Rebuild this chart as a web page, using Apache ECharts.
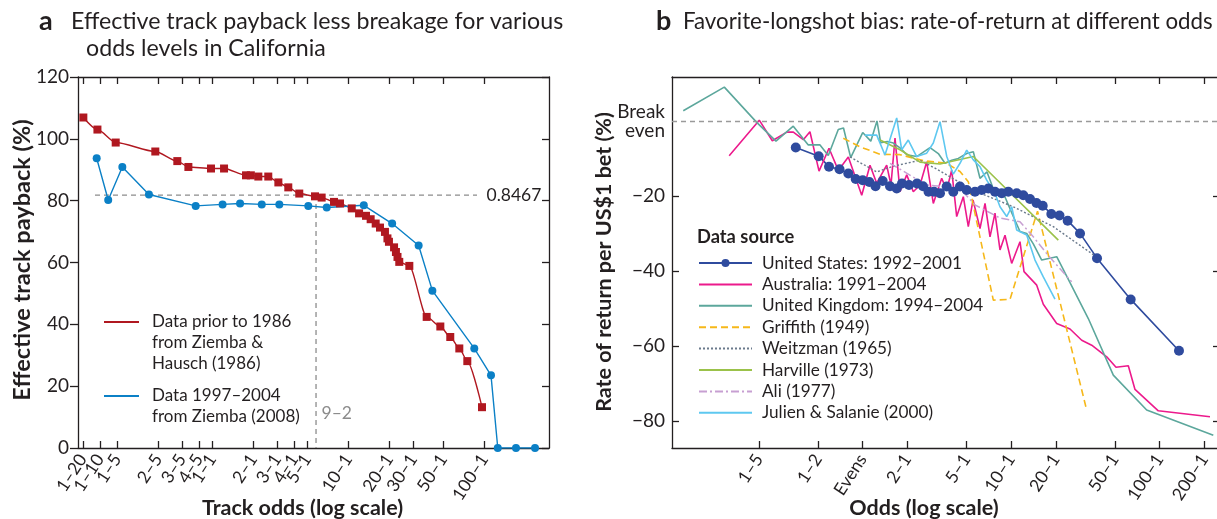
<!DOCTYPE html>
<html><head><meta charset="utf-8">
<script src="https://cdn.jsdelivr.net/npm/echarts@6/dist/echarts.min.js"></script>
<style>html,body{margin:0;padding:0;background:#fff}#c{width:1217px;height:519px}</style>
</head><body><div id="c"></div>
<script>
// ---------- Panel a ----------
const leftTickOdds = [0.05,0.1,0.2,0.4,0.6,0.8,1,2,3,4,5,10,20,30,50,100];
const leftTickLabels = ['1–20','1–10','1–5','2–5','3–5','4–5','1–1','2–1','3–1','4–1','5–1','10–1','20–1','30–1','50–1','100–1'];
const leftYTicks = [0,20,40,60,80,100,120];

const redOdds = [0.051,0.09,0.188,0.381,0.553,0.667,0.978,1.22,1.77,1.92,2.18,2.58,3.06,3.62,4.36,5.69,6.37,7.85,8.69,10.6,12.0,13.5,14.6,15.9,17.1,18.6,19.4,19.9,21.7,22.4,23.0,23.7,28.1,37.7,47.5,56.2,65.5,75.0,96.2];
const redVals = [106.9,103.0,98.8,95.9,92.8,90.9,90.4,90.4,88.2,88.2,87.8,87.8,85.9,84.3,82.3,81.4,81.0,79.6,79.1,77.5,75.9,75.1,74.0,72.6,71.3,69.9,67.8,66.7,64.9,63.4,61.8,60.2,58.9,42.4,39.3,35.9,32.2,28.1,13.2];

const blueOdds = [0.0873,0.139,0.218,0.342,0.755,1.19,1.60,2.31,3.11,5.08,6.94,13.0,21.0,32.9,41.5,84.4,112,125.6,171,236];
const blueVals = [93.7,80.2,90.9,82.0,78.3,78.8,79.1,78.8,78.8,78.3,77.8,78.5,72.6,65.5,50.9,32.2,23.5,0,0,0];

const refLevel = 81.8;              // dashed horizontal level ("0.8467")
const refLineOdds = [0.0816, 88.4]; // extent of the dashed horizontal
const refOdds92 = 5.79;             // dashed vertical ("9–2")

// ---------- Panel b ----------
const rightTickOdds = [0.2,0.5,1,2,5,10,20,50,100,200];
const rightTickLabels = ['1–5','1–2','Evens','2–1','5–1','10–1','20–1','50–1','100–1','200–1'];
const rightYTicks = [-80,-60,-40,-20,0];

const usOdds = [0.354,0.505,0.593,0.698,0.800,0.897,1.0,1.108,1.22,1.364,1.528,1.695,1.84,2.051,2.322,2.549,2.777,3.023,3.319,3.681,4.078,4.525,5.022,5.711,6.338,7.022,7.79,8.644,9.575,10.91,12.08,13.41,14.83,16.33,18.66,21.19,24.06,29.13,37.93,63.95,135.3];
const usVals = [-7.0,-9.3,-12.1,-12.8,-13.9,-15.4,-15.7,-16.2,-17.3,-15.9,-17.3,-17.9,-16.6,-17.0,-16.6,-17.3,-18.8,-18.8,-19.2,-17.4,-18.8,-17.4,-18.3,-18.8,-18.3,-17.9,-18.8,-19.2,-18.8,-19.2,-19.7,-20.7,-21.8,-22.5,-24.7,-25.1,-26.5,-29.9,-36.5,-47.5,-61.2];

const auOdds = [0.126,0.201,0.246,0.308,0.341,0.398,0.441,0.508,0.593,0.685,0.800,0.985,1.12,1.243,1.451,1.551,1.651,1.784,1.98,2.193,2.433,2.70,2.991,3.406,3.681,3.979,4.299,4.764,5.148,5.538,6.172,6.672,7.209,7.79,8.418,9.097,10.09,11.48,12.22,14.88,16.48,20.29,24.94,29.91,34.92,44.09,50.92,61.63,68.38,98.15,218.9];
const auVals = [-9.2,0.3,-5.2,-2.9,-2.9,-4.9,-2.8,-13.3,-7.2,-13.1,-9.5,-19.7,-11.7,-16.5,-11.7,-17.0,-4.5,-18.8,-14.3,-18.8,-17.0,-10.8,-21.9,-15.2,-18.4,-13.0,-25.4,-20.1,-28.1,-21.0,-28.6,-21.9,-30.8,-24.5,-34.3,-30.4,-37.9,-32.1,-40.1,-43.7,-48.8,-53.9,-55.4,-58.4,-59.7,-62.8,-65.6,-65.2,-71.5,-77.2,-78.8];

const ukOdds = [0.0618,0.1168,0.1931,0.2604,0.3406,0.4299,0.5157,0.5863,0.6847,0.7424,0.8301,1.0,1.134,1.248,1.322,1.465,1.608,1.784,1.98,2.311,2.841,3.232,3.586,3.979,4.408,5.022,5.564,6.172,6.88,7.79,9.097,10.35,11.48,12.74,14.11,16.08,20.29,24.94,33.13,48.83,81.97,230.4];
const ukVals = [2.8,9.1,-0.3,-5.3,-1.3,-6.3,-6.3,-9.1,-2.2,-1.8,-9.7,-3.0,-5.3,0.1,-5.7,-5.4,-5.8,-7.1,-8.9,-9.4,-7.0,-8.6,-11.2,-10.4,-9.9,-8.6,-8.1,-15.2,-13.5,-19.2,-20.2,-25.4,-29.4,-29.9,-32.7,-37.0,-36.1,-43.0,-52.6,-67.7,-77.0,-83.7];

const grOdds = [0.740,0.959,1.308,1.784,2.561,3.681,4.525,5.148,7.588,9.831,15.07,32.31];
const grVals = [-4.5,-6.8,-8.8,-8.9,-10.5,-11.2,-13.4,-16.1,-47.7,-47.5,-24.0,-77.0];

const weOdds = [0.821,1.243,1.60,2.433,3.071,5.564,10.35,19.25,37.75];
const weVals = [-9.5,-13.5,-12.0,-10.4,-12.5,-18.4,-22.8,-28.1,-36.2];

const haOdds = [1.268,1.784,2.433,3.319,5.564,20.80];
const haVals = [-4.7,-7.6,-10.9,-11.4,-9.4,-31.7];

const alOdds = [1.528,2.70,3.681,4.525,5.711,8.418,11.48,14.11,17.73,25.61];
const alVals = [-11.2,-17.0,-17.5,-17.9,-22.3,-25.8,-26.8,-30.8,-35.7,-42.8];

const juOdds = [1.036,1.243,1.413,1.695,1.831,2.029,2.311,2.70,2.991,3.319,3.681,4.078,4.525,5.022,5.564,6.172,6.848,7.79,8.418,9.341,10.09,10.91,12.74,14.49,16.48,19.76];
const juVals = [-3.7,-3.7,-9.0,0.9,-7.6,-5.0,-9.4,-8.5,-5.8,-0.1,-9.3,-14.1,-11.2,-7.7,-10.3,-12.1,-15.7,-19.2,-22.8,-25.4,-22.8,-29.0,-30.3,-37.0,-41.5,-47.4];

// ---------- scales ----------
// panel a: log odds axis, compressed below 1-5
const LB = Math.log10(0.2);
const lx = o => { const l = Math.log10(o); return l >= LB ? l : LB + 0.42 * (l - LB); };
const rx = o => Math.log10(o);
const zip = (xs, ys, f) => xs.map((x, i) => [f(x), ys[i]]);
function makeFmt(ticks, labels, f) {
  const m = {};
  ticks.forEach((t, i) => { m[f(t).toFixed(4)] = labels[i]; });
  return v => { const k = Number(v).toFixed(4); return m[k] !== undefined ? m[k] : ''; };
}

const FONT = 'Lato';
const INK = '#231f20';
const AX = { lineStyle: { color: INK, width: 1.3 }, onZero: false };
const TICKLBL = { fontFamily: FONT, color: INK, showMinLabel: true, showMaxLabel: true, hideOverlap: false };

const chart = echarts.init(document.getElementById('c'));

const lxTicks = leftTickOdds.map(lx);
// labels split over two coincident axes so that crowded neighbours are never auto-hidden
const lxTicksEven = lxTicks.filter((_, i) => i % 2 === 0);
const lxTicksOdd = lxTicks.filter((_, i) => i % 2 === 1);
const rxTicks = rightTickOdds.map(rx);
const HIDE = { opacity: 0 };
const LFMT = makeFmt(leftTickOdds, leftTickLabels, lx);
const LXMIN = -0.9875, LXMAX = 2.4757;

chart.setOption({
  animation: false,
  backgroundColor: '#fff',
  textStyle: { fontFamily: FONT, color: INK },
  title: [
    { text: 'a', left: 39, top: 6, padding: 0, textStyle: { fontFamily: FONT, fontSize: 27, fontWeight: 'bold', color: INK, lineHeight: 30 } },
    { text: 'Effective track payback less breakage for various', left: 71, top: 9, padding: 0, textStyle: { fontFamily: FONT, fontSize: 23.2, fontWeight: 'normal', color: INK, lineHeight: 26 } },
    { text: 'odds levels in California', left: 86, top: 36, padding: 0, textStyle: { fontFamily: FONT, fontSize: 23.2, fontWeight: 'normal', color: INK, lineHeight: 26 } },
    { text: 'b', left: 656, top: 6, padding: 0, textStyle: { fontFamily: FONT, fontSize: 27, fontWeight: 'bold', color: INK, lineHeight: 30 } },
    { text: 'Favorite-longshot bias: rate-of-return at different odds', left: 683, top: 9, padding: 0, textStyle: { fontFamily: FONT, fontSize: 22.3, fontWeight: 'normal', color: INK, lineHeight: 26 } },
    { text: 'Data source', left: 697, top: 227, padding: 0, textStyle: { fontFamily: FONT, fontSize: 18.3, fontWeight: 'bold', color: INK, lineHeight: 20 } }
  ],
  grid: [
    { left: 78, top: 77, width: 471, height: 371, containLabel: false, outerBoundsMode: 'none' },
    { left: 672, top: 77, width: 546, height: 371, containLabel: false, outerBoundsMode: 'none' }
  ],
  xAxis: [
    { gridIndex: 0, type: 'value', position: 'bottom', min: LXMIN, max: LXMAX,
      axisLine: AX, splitLine: { show: false },
      axisTick: { inside: true, length: 7, customValues: lxTicks, lineStyle: { color: INK, width: 1.3 } },
      axisLabel: Object.assign({ customValues: lxTicksEven, formatter: LFMT, rotate: 57, margin: 8, fontSize: 17.5 }, TICKLBL),
      name: 'Track odds (log scale)', nameLocation: 'middle', nameGap: 49, nameMoveOverlap: false,
      nameTextStyle: { fontFamily: FONT, fontSize: 21.5, fontWeight: 'bold', color: INK, padding: [0, 22, 0, 0] } },
    { gridIndex: 0, type: 'value', position: 'top', min: LXMIN, max: LXMAX,
      axisLine: AX, splitLine: { show: false },
      axisTick: { inside: true, length: 7, customValues: lxTicks, lineStyle: { color: INK, width: 1.3 } },
      axisLabel: { show: false } },
    { gridIndex: 1, type: 'value', position: 'bottom', min: -1.285, max: 2.3942,
      axisLine: AX, splitLine: { show: false },
      axisTick: { inside: true, length: 7, customValues: rxTicks, lineStyle: { color: INK, width: 1.3 } },
      axisLabel: Object.assign({ customValues: rxTicks, formatter: makeFmt(rightTickOdds, rightTickLabels, rx), rotate: 57, margin: 8, fontSize: 17.5 }, TICKLBL),
      name: 'Odds (log scale)', nameLocation: 'middle', nameGap: 49, nameMoveOverlap: false,
      nameTextStyle: { fontFamily: FONT, fontSize: 21.5, fontWeight: 'bold', color: INK, padding: [0, 42, 0, 0] } },
    { gridIndex: 1, type: 'value', position: 'top', min: -1.285, max: 2.3942,
      axisLine: AX, splitLine: { show: false },
      axisTick: { inside: true, length: 7, customValues: rxTicks, lineStyle: { color: INK, width: 1.3 } },
      axisLabel: { show: false } },
    { gridIndex: 0, type: 'value', position: 'bottom', offset: 0, min: LXMIN, max: LXMAX,
      axisLine: { show: false, onZero: false }, splitLine: { show: false }, axisTick: { show: false },
      axisLabel: Object.assign({ customValues: lxTicksOdd, formatter: LFMT, rotate: 57, margin: 8, fontSize: 17.5 }, TICKLBL) }
  ],
  yAxis: [
    { gridIndex: 0, type: 'value', position: 'left', min: 0, max: 120, interval: 20,
      axisLine: AX, splitLine: { show: false },
      axisTick: { inside: false, length: 8, lineStyle: { color: INK, width: 1.3 } },
      axisLabel: Object.assign({ margin: 9, fontSize: 19 }, TICKLBL),
      name: 'Effective track payback (%)', nameLocation: 'middle', nameGap: 44, nameMoveOverlap: false,
      nameTextStyle: { fontFamily: FONT, fontSize: 23.5, fontWeight: 'bold', color: INK, padding: [0, 0, 0, 5] } },
    { gridIndex: 0, type: 'value', position: 'right', min: 0, max: 120, interval: 20,
      axisLine: AX, splitLine: { show: false },
      axisTick: { inside: true, length: 7, lineStyle: { color: INK, width: 1.3 } },
      axisLabel: { show: false } },
    { gridIndex: 1, type: 'value', position: 'left', min: -87.12, max: 11.81,
      axisLine: AX, splitLine: { show: false },
      axisTick: { inside: true, length: 7, customValues: [-80, -60, -40, -20], lineStyle: { color: INK, width: 1.3 } },
      axisLabel: Object.assign({ customValues: rightYTicks, margin: 7, fontSize: 19, lineHeight: 19,
        formatter: v => v === 0 ? 'Break\neven' : '\u2212' + Math.abs(v) }, TICKLBL),
      name: 'Rate of return per US$1 bet (%)', nameLocation: 'middle', nameGap: 57, nameMoveOverlap: false,
      nameTextStyle: { fontFamily: FONT, fontSize: 21.5, fontWeight: 'bold', color: INK, padding: [0, 0, 0, 1] } },
    { gridIndex: 1, type: 'value', position: 'right', min: -87.12, max: 11.81,
      axisLine: { show: false, onZero: false }, splitLine: { show: false },
      axisTick: { inside: true, length: 5, customValues: [-80, -60, -40, -20], lineStyle: { color: INK, width: 1.3 } },
      axisLabel: { show: false } }
  ],
  legend: [
    { data: ['Data prior to 1986'], orient: 'vertical', left: 104, top: 269.5, padding: 0,
      icon: 'rect', itemWidth: 35, itemHeight: 2,
      textStyle: { fontFamily: FONT, fontSize: 17, color: INK, lineHeight: 21, padding: [0, 0, 0, 8] },
      formatter: () => ' \n \nData prior to 1986\nfrom Ziemba &\nHausch (1986)' },
    { data: ['Data 1997–2004'], orient: 'vertical', left: 104, top: 364.5, padding: 0,
      icon: 'rect', itemWidth: 35, itemHeight: 2,
      textStyle: { fontFamily: FONT, fontSize: 17, color: INK, lineHeight: 21, padding: [0, 0, 0, 8] },
      formatter: () => ' \nData 1997–2004\nfrom Ziemba (2008)' },
    { data: [
        { name: 'United States: 1992–2001' },
        { name: 'Australia: 1991–2004', itemStyle: HIDE },
        { name: 'United Kingdom: 1994–2004', itemStyle: HIDE },
        { name: 'Griffith (1949)', itemStyle: HIDE },
        { name: 'Weitzman (1965)', itemStyle: HIDE },
        { name: 'Harville (1973)', itemStyle: HIDE },
        { name: 'Ali (1977)', itemStyle: HIDE },
        { name: 'Julien & Salanie (2000)', itemStyle: HIDE }
      ],
      orient: 'vertical', left: 698, top: 254.5, padding: 0, itemWidth: 53, itemHeight: 10, itemGap: 4.4,
      textStyle: { fontFamily: FONT, fontSize: 17.2, color: INK, padding: [0, 0, 0, 5] } }
  ],
  series: [
    { name: 'Ref level', type: 'line', xAxisIndex: 0, yAxisIndex: 0, silent: true,
      data: [[lx(refLineOdds[0]), refLevel], { value: [lx(refLineOdds[1]), refLevel], label: { show: true, formatter: '0.8467', position: 'right', distance: 9, fontSize: 17.5, color: INK, fontFamily: FONT } }],
      symbol: 'circle', symbolSize: 1, itemStyle: { color: 'rgba(0,0,0,0)' },
      lineStyle: { color: '#8c8c8c', width: 1.3, type: [5, 4] } },
    { name: 'Ref 9-2', type: 'line', xAxisIndex: 0, yAxisIndex: 0, silent: true,
      data: [[lx(refOdds92), refLevel], { value: [lx(refOdds92), 0], label: { show: true, formatter: '9–2', position: 'right', distance: 5, offset: [0, -35], fontSize: 17.5, color: '#8c8c8c', fontFamily: FONT } }],
      symbol: 'circle', symbolSize: 1, itemStyle: { color: 'rgba(0,0,0,0)' },
      lineStyle: { color: '#8c8c8c', width: 1.3, type: [5, 4] } },
    { name: 'Data prior to 1986', type: 'line', xAxisIndex: 0, yAxisIndex: 0,
      data: zip(redOdds, redVals, lx), symbol: 'rect', symbolSize: 8, smooth: 0.25, smoothMonotone: 'x',
      itemStyle: { color: '#b01820' }, lineStyle: { color: '#b01820', width: 1.4 } },
    { name: 'Data 1997–2004', type: 'line', xAxisIndex: 0, yAxisIndex: 0,
      data: zip(blueOdds, blueVals, lx), symbol: 'circle', symbolSize: 8,
      itemStyle: { color: '#0b80c6' }, lineStyle: { color: '#0b80c6', width: 1.4 } },

    { name: 'United States: 1992–2001', type: 'line', xAxisIndex: 2, yAxisIndex: 2,
      data: zip(usOdds, usVals, rx), symbol: 'circle', symbolSize: 10,
      itemStyle: { color: '#2f4b9e' }, lineStyle: { color: '#2f4b9e', width: 1.6 },
      markLine: { silent: true, symbol: 'none', label: { show: false },
        lineStyle: { color: '#9a9a9a', type: [5, 4], width: 1.3 }, data: [{ yAxis: 0 }] } },
    { name: 'Australia: 1991–2004', type: 'line', xAxisIndex: 2, yAxisIndex: 2,
      data: zip(auOdds, auVals, rx), symbol: 'none',
      itemStyle: { color: '#ec1a8c' }, lineStyle: { color: '#ec1a8c', width: 1.6 } },
    { name: 'United Kingdom: 1994–2004', type: 'line', xAxisIndex: 2, yAxisIndex: 2,
      data: zip(ukOdds, ukVals, rx), symbol: 'none',
      itemStyle: { color: '#5ca79c' }, lineStyle: { color: '#5ca79c', width: 1.6 } },
    { name: 'Griffith (1949)', type: 'line', xAxisIndex: 2, yAxisIndex: 2,
      data: zip(grOdds, grVals, rx), symbol: 'none',
      itemStyle: { color: '#f6b81a' }, lineStyle: { color: '#f6b81a', width: 1.6, type: [7, 4] } },
    { name: 'Weitzman (1965)', type: 'line', xAxisIndex: 2, yAxisIndex: 2,
      data: zip(weOdds, weVals, rx), symbol: 'none',
      itemStyle: { color: '#6b7a8c' }, lineStyle: { color: '#6b7a8c', width: 1.4, type: [2, 2] } },
    { name: 'Harville (1973)', type: 'line', xAxisIndex: 2, yAxisIndex: 2,
      data: zip(haOdds, haVals, rx), symbol: 'none',
      itemStyle: { color: '#9bc24a' }, lineStyle: { color: '#9bc24a', width: 1.6 } },
    { name: 'Ali (1977)', type: 'line', xAxisIndex: 2, yAxisIndex: 2,
      data: zip(alOdds, alVals, rx), symbol: 'none',
      itemStyle: { color: '#c79fd2' }, lineStyle: { color: '#c79fd2', width: 1.5, type: [8, 3, 2, 3] } },
    { name: 'Julien & Salanie (2000)', type: 'line', xAxisIndex: 2, yAxisIndex: 2,
      data: zip(juOdds, juVals, rx), symbol: 'none',
      itemStyle: { color: '#5ec8f0' }, lineStyle: { color: '#5ec8f0', width: 1.6 } }
  ]
});
</script></body></html>
